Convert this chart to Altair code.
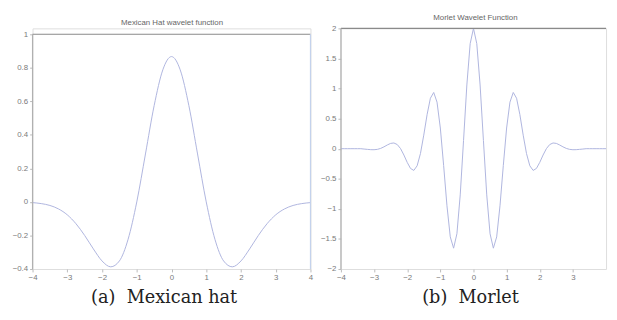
import altair as alt
import pandas as pd

# ---- data ----
mh_x = [-4, -3.75, -3.5, -3.25, -3, -2.75, -2.5, -2.25, -2, -1.75, -1.5, -1.25, -1,
        -0.75, -0.5, -0.25, 0, 0.25, 0.5, 0.75, 1, 1.25, 1.5, 1.75, 2, 2.25, 2.5,
        2.75, 3, 3.25, 3.5, 3.75, 4]
mh_y = [-0.004, -0.010, -0.021, -0.042, -0.077, -0.130, -0.200, -0.280, -0.352, -0.387,
        -0.352, -0.223, 0.0, 0.286, 0.574, 0.788, 0.867, 0.788, 0.574, 0.286, 0.0,
        -0.223, -0.352, -0.387, -0.352, -0.280, -0.200, -0.130, -0.077, -0.042,
        -0.021, -0.010, -0.004]

mo_x = [-4.0, -3.9, -3.8, -3.7, -3.6, -3.5, -3.4, -3.3, -3.2, -3.1, -3.0, -2.9, -2.8,
        -2.7, -2.6, -2.5, -2.4, -2.3, -2.2, -2.1, -2.0, -1.9, -1.8, -1.7, -1.6, -1.5,
        -1.4, -1.3, -1.2, -1.1, -1.0, -0.9, -0.8, -0.7, -0.6, -0.5, -0.4, -0.3, -0.2,
        -0.1, 0.0, 0.1, 0.2, 0.3, 0.4, 0.5, 0.6, 0.7, 0.8, 0.9, 1.0, 1.1, 1.2, 1.3,
        1.4, 1.5, 1.6, 1.7, 1.8, 1.9, 2.0, 2.1, 2.2, 2.3, 2.4, 2.5, 2.6, 2.7, 2.8,
        2.9, 3.0, 3.1, 3.2, 3.3, 3.4, 3.5, 3.6, 3.7, 3.8, 3.9, 4.0]
mo_y = [0.0, 0.0, 0.0, 0.0, 0.0, 0.0, 0.0, -0.006, -0.011, -0.016, -0.017, -0.011, 0.005,
        0.031, 0.062, 0.088, 0.095, 0.069, 0.001, -0.105, -0.227, -0.328, -0.361, -0.284,
        -0.081, 0.225, 0.566, 0.839, 0.935, 0.774, 0.344, -0.281, -0.949, -1.466, -1.654,
        -1.414, -0.768, 0.135, 1.059, 1.746, 2.0, 1.746, 1.059, 0.135, -0.768, -1.414,
        -1.654, -1.466, -0.949, -0.281, 0.344, 0.774, 0.935, 0.839, 0.566, 0.225, -0.081,
        -0.284, -0.361, -0.328, -0.227, -0.105, 0.001, 0.069, 0.095, 0.088, 0.062, 0.031,
        0.005, -0.011, -0.017, -0.016, -0.011, -0.006, 0.0, 0.0, 0.0, 0.0, 0.0, 0.0, 0.0]

titles = ["Mexican Hat wavelet function", "Morlet Wavelet Function"]
captions = ["(a)\u00a0 Mexican hat", "(b)\u00a0 Morlet"]
mh_yticks = [-0.4, -0.2, 0, 0.2, 0.4, 0.6, 0.8, 1]
mo_yticks = [-2, -1.5, -1, -0.5, 0, 0.5, 1, 1.5, 2]
xticks_a = [-4, -3, -2, -1, 0, 1, 2, 3, 4]
xticks_b = [-4, -3, -2, -1, 0, 1, 2, 3]

LINE = "#aeb5de"
LABEL = "#7a7a7a"


def axis(values):
    return alt.Axis(values=values, format="~g", domain=False, grid=False,
                    tickSize=3, tickColor="#bbbbbb", labelFontSize=8,
                    labelColor=LABEL, labelFont="Liberation Sans",
                    labelPadding=2, title=None, labelFlush=False,
                    labelOverlap=False, labelBound=False)


def panel(xs, ys, ydom, yticks, xticks, w, h, title, tdx, tdy, cap, cdx, right_border, interp):
    df = pd.DataFrame({"x": xs, "y": ys})
    xsc = alt.Scale(domain=[-4, 4], nice=False, zero=False)
    ysc = alt.Scale(domain=ydom, nice=False, zero=False)
    ytop = yticks[-1]
    ybot = yticks[0]
    xa = axis(xticks)
    ya = axis(yticks)
    line = alt.Chart(df).mark_line(color=LINE, strokeWidth=1, interpolate=interp).encode(
        x=alt.X("x:Q", scale=xsc, axis=xa),
        y=alt.Y("y:Q", scale=ysc, axis=ya),
    )
    frame = pd.DataFrame({
        "x": [-4, -4, 4], "x2": [4, -4, 4],
        "y": [ytop, ybot, ybot], "y2": [ytop, ytop, ytop],
        "c": ["#8a8a8a", "#b0b0b0", "#c4d2ec" if right_border else "#ffffff00"],
    })
    rules = alt.Chart(frame).mark_rule(strokeWidth=1.2).encode(
        x=alt.X("x:Q", scale=xsc, axis=xa), x2="x2:Q",
        y=alt.Y("y:Q", scale=ysc, axis=ya), y2="y2:Q",
        color=alt.Color("c:N", scale=None),
    )
    ttl = alt.Chart(pd.DataFrame({"t": [title]})).mark_text(
        fontSize=8, font="Liberation Sans", color="#666666").encode(
        x=alt.value(tdx), y=alt.value(tdy), text="t:N")
    capt = alt.Chart(pd.DataFrame({"t": [cap]})).mark_text(
        fontSize=18, font="DejaVu Serif", color="#222222").encode(
        x=alt.value(cdx), y=alt.value(h + 30), text="t:N")
    return alt.layer(line, rules, ttl, capt).properties(width=w, height=h)


pa = panel(mh_x, mh_y, [-0.4, 1.035], mh_yticks, xticks_a, 283, 245,
           titles[0], 142, -5, captions[0], 134, True, "monotone")
pb = panel(mo_x, mo_y, [-2, 2], mo_yticks, xticks_b, 270, 245,
           titles[1], 137, -11, captions[1], 132, False, "linear")

chart = alt.hconcat(pa, pb, spacing=31, bounds="flush").properties(
    padding={"left": 3, "top": 2, "right": 0, "bottom": 0}
).configure_view(stroke=None).configure(background="white").configure_axis(
    labelOverlap=False)

chart.save("out.html", embed_options={"renderer": "svg", "actions": False})
